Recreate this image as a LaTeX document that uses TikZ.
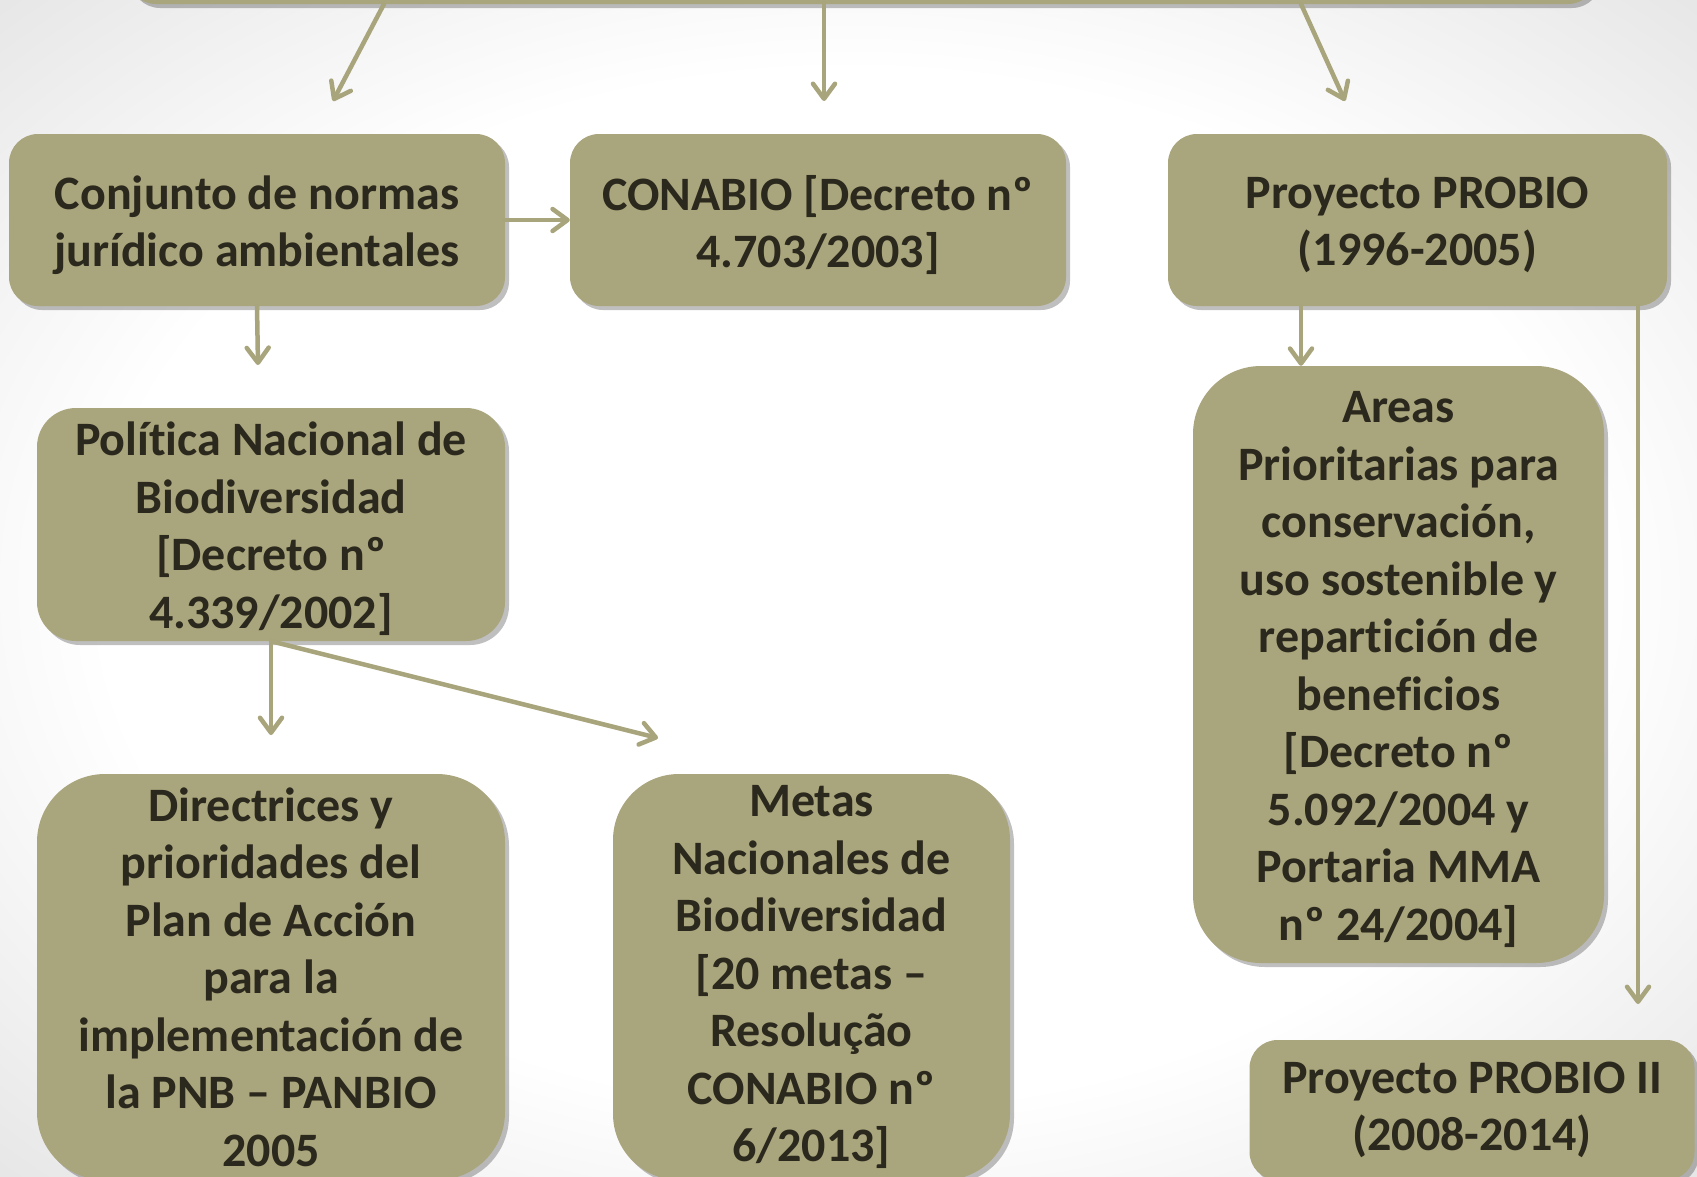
\documentclass[tikz,border=0pt]{standalone}
\usepackage{fontspec}
\setmainfont[Ligatures=NoCommon]{Carlito}
\usetikzlibrary{arrows.meta,shadows}
\definecolor{boxfill}{HTML}{A9A57C}
\definecolor{boxtext}{HTML}{2B281D}
\definecolor{arrowc}{HTML}{A8A47B}
\pgfdeclareradialshading{vign}{\pgfpoint{0bp}{0bp}}{color(0bp)=(white); color(22bp)=(white); color(36bp)=(black!10); color(50bp)=(black!10)}
\begin{document}
\begin{tikzpicture}[x=1pt,y=-1pt,
  box/.style={fill=boxfill, draw=none, inner sep=0pt,
    drop shadow={shadow xshift=4pt, shadow yshift=-4pt, opacity=0.25, fill=black}},
  txt/.style={text=boxtext, font=\fontsize{48}{57.5}\selectfont\bfseries,
    align=center, inner sep=0pt},
  conn/.style={draw=arrowc, line width=4.5pt, line cap=round, line join=round,
    -{Straight Barb[length=15pt,width=22pt,round]}},
]
\useasboundingbox (0,0) rectangle (1697,1176);
\shade[shading=vign] (0,0) rectangle (1697,1176);

% top bar (cut off by page)
\node[box, minimum width=1470pt, minimum height=200pt, rounded corners=29pt] (top) at (862,-96) {};

% boxes
\node[box, minimum width=496pt, minimum height=172pt, rounded corners=29pt] (b1) at (257,220) {};
\node[box, minimum width=496pt, minimum height=172pt, rounded corners=29pt] (b2) at (818,220) {};
\node[box, minimum width=499pt, minimum height=172pt, rounded corners=29pt] (b3) at (1417.5,220) {};
\node[box, minimum width=468pt, minimum height=233pt, rounded corners=39pt] (b4) at (271,524.5) {};
\node[box, minimum width=411pt, minimum height=597pt, rounded corners=68pt] (b5) at (1398.5,664.5) {};
\node[box, minimum width=468pt, minimum height=406pt, rounded corners=68pt] (b6) at (271,977) {};
\node[box, minimum width=397pt, minimum height=406pt, rounded corners=66pt] (b7) at (811.5,977) {};
\node[box, minimum width=445pt, minimum height=140pt, rounded corners=28pt] (b8) at (1472,1110) {};

% texts
\node[txt] (t1) at ([yshift=-5pt]b1.center) {Conjunto de normas\\jurídico ambientales};
\node[txt] (t2) at ([yshift=-5pt]b2.center) {CONABIO [Decreto nº\\4.703/2003]};
\node[txt] (t3) at ([yshift=-5pt]b3.center) {Proyecto PROBIO\\(1996-2005)};
\node[txt] (t4) at ([yshift=-4pt]b4.center) {Política Nacional de\\Biodiversidad\\{[}Decreto nº\\4.339/2002]};
\node[txt] (t5) at ([yshift=-5pt]b5.center) {Areas\\Prioritarias para\\conservación,\\uso sostenible y\\repartición de\\beneficios\\{[}Decreto nº\\5.092/2004 y\\Portaria MMA\\nº 24/2004]};
\node[txt] (t6) at (b6.center) {Directrices y\\prioridades del\\Plan de Acción\\para la\\implementación de\\la PNB – PANBIO\\2005};
\node[txt] (t7) at (b7.center) {Metas\\Nacionales de\\Biodiversidad\\{[}20 metas –\\Resolução\\CONABIO nº\\6/2013]};
\node[txt] (t8) at (b8.center) {Proyecto PROBIO II\\(2008-2014)};

% connector end points
\coordinate (s1) at (384,4);
\coordinate (e1) at (333,101);
\coordinate (s2) at (824,4);
\coordinate (e2) at (824,101);
\coordinate (s3) at (1301,4);
\coordinate (e3) at (1345,101);
\coordinate (e14) at (258,365);
\coordinate (x35) at (1301,0);
\coordinate (x38) at (1638,0);
\coordinate (e38) at (1638,1004);
\coordinate (e46) at (271,735);
\coordinate (e47) at (658,738);

% connectors
\draw[conn] (s1) -- (e1);
\draw[conn] (s2) -- (e2);
\draw[conn] (s3) -- (e3);
\draw[conn] (b1.east) -- (b2.west);
\draw[conn] (b1.south) -- (e14);
\draw[conn] (b3.south -| x35) -- (b5.north -| x35);
\draw[conn] (b3.south -| x38) -- (e38);
\draw[conn] (b4.south) -- (e46);
\draw[conn] (b4.south) -- (e47);
\end{tikzpicture}
\end{document}
